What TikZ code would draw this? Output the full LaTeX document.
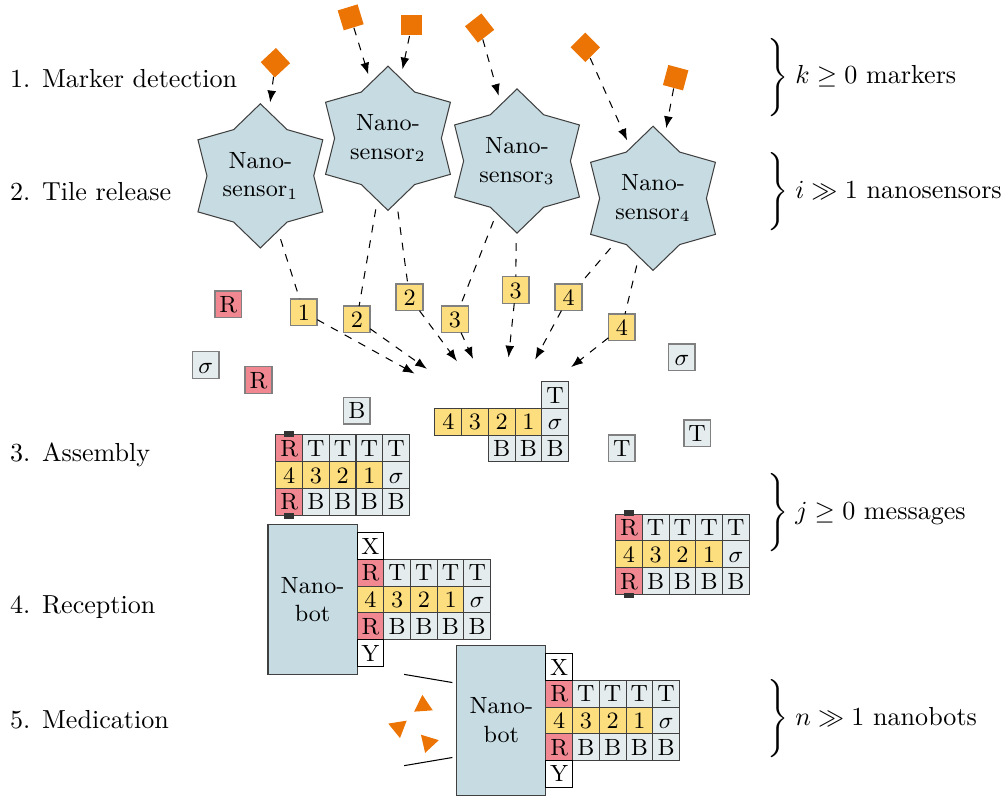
\documentclass[tikz,border=0pt]{standalone}
\usetikzlibrary{positioning, shapes.geometric, arrows.meta}

\definecolor{sensorblue}{RGB}{199,219,226}
\definecolor{tilegrey}{RGB}{228,236,238}
\definecolor{tileyellow}{RGB}{253,222,127}
\definecolor{tilered}{RGB}{240,135,145}
\definecolor{markerorange}{RGB}{236,116,4}

\newcommand{\tilesize}{0.36cm}

% one assembled message: 3 x 5 tiles, #2 is the centre of the "4" tile
\newcommand{\tileblock}[2]{%
    \coordinate (#1) at #2;
    \foreach \col/\row/\rn/\fc/\lab in {
        0/1/t/tilered/R, 1/1/t/tilegrey/T, 2/1/t/tilegrey/T, 3/1/t/tilegrey/T, 4/1/t/tilegrey/T,
        0/0/m/tileyellow/4, 1/0/m/tileyellow/3, 2/0/m/tileyellow/2, 3/0/m/tileyellow/1, 4/0/m/tilegrey/$\sigma$,
        0/-1/b/tilered/R, 1/-1/b/tilegrey/B, 2/-1/b/tilegrey/B, 3/-1/b/tilegrey/B, 4/-1/b/tilegrey/B}
        \node [tile, fill = \fc] (#1-\rn\col) at ([shift = {(\col*\tilesize, \row*\tilesize)}]#1) {\lab};
}

\begin{document}
\begin{tikzpicture}[
    node distance = 0pt,
    tile/.style = {
        rectangle,
        minimum size = \tilesize,
        inner sep = 0pt,
        outer sep = 0pt,
        draw = black!75,
        text height = 6.2pt,
        text depth = 0pt,
        font = \small
    },
    loose/.style = {tile, draw = black!50, line width = 0.6pt},
    endtile/.style = {tile, draw = black, fill = white},
    stub/.style = {
        rectangle,
        minimum width = 0.135cm,
        minimum height = 0.075cm,
        inner sep = 0pt,
        fill = black!80
    },
    sensor/.style = {
        star,
        star points = 6,
        star point ratio = 1.35,
        minimum size = 1.91cm,
        inner sep = 0pt,
        outer sep = 3pt,
        draw = black!75,
        fill = sensorblue,
        align = center,
        font = \small
    },
    bot/.style = {
        rectangle,
        minimum width = 1.2cm,
        minimum height = 2.02cm,
        inner sep = 0pt,
        outer sep = 0pt,
        draw = black!75,
        fill = sensorblue,
        align = center,
        font = \small
    },
    marker/.style = {rectangle, minimum size = 0.28cm, inner sep = 0pt, fill = markerorange},
    drug/.style = {
        regular polygon,
        regular polygon sides = 3,
        minimum size = 0.29cm,
        inner sep = 0pt,
        fill = markerorange
    },
    hub/.style = {ellipse, minimum width = 3.53cm, minimum height = 1.72cm, inner sep = 0pt},
    phase/.style = {anchor = base west, inner sep = 0pt},
    link/.style = {dashed},
    arrow/.style = {-{Latex[length = 4.5pt]}, dashed}
]
    \useasboundingbox (0,0) rectangle (13.585,10.782);

    % Phases
    \node [phase] (ph1) at (0.13,9.605) {1. Marker detection};
    \node [phase] (ph2) at (0.13,8.073) {2. Tile release};
    \node [phase] (ph3) at (0.13,4.559) {3. Assembly};
    \node [phase] (ph4) at (0.13,2.516) {4. Reception};
    \node [phase] (ph5) at (0.13,0.966) {5. Medication};

    % Counts
    \node [phase] (cnt1) at (10.33,9.652) {$\Bigg\}\;k\geq 0$ markers};
    \node [phase] (cnt2) at (10.33,8.110) {$\Bigg\}\;i\gg 1$ nanosensors};
    \node [phase] (cnt3) at (10.33,3.787) {$\Bigg\}\;j\geq 0$ messages};
    \node [phase] (cnt4) at (10.33,1.004) {$\Bigg\}\;n\gg 1$ nanobots};

    % Markers
    \node [marker, rotate = 43] (m1) at (3.712,9.937) {};
    \node [marker, rotate = 17] (m2) at (4.726,10.548) {};
    \node [marker] (m3) at (5.550,10.445) {};
    \node [marker, rotate = 38] (m4) at (6.464,10.404) {};
    \node [marker, rotate = 45] (m5) at (7.889,10.144) {};
    \node [marker, rotate = -15] (m6) at (9.106,9.735) {};

    % Nanosensors
    \node [sensor] (s1) at (3.509,8.412) {Nano-\\sensor$_1$};
    \node [sensor] (s2) at (5.229,8.918) {Nano-\\sensor$_2$};
    \node [sensor] (s3) at (6.968,8.612) {Nano-\\sensor$_3$};
    \node [sensor] (s4) at (8.801,8.109) {Nano-\\sensor$_4$};

    % Released tiles
    \node [loose, fill = tileyellow] (t1) at (4.096,6.573) {1};
    \node [loose, fill = tileyellow] (t2a) at (4.809,6.478) {2};
    \node [loose, fill = tileyellow] (t2b) at (5.520,6.775) {2};
    \node [loose, fill = tileyellow] (t3a) at (6.132,6.478) {3};
    \node [loose, fill = tileyellow] (t3b) at (6.950,6.873) {3};
    \node [loose, fill = tileyellow] (t4a) at (7.663,6.775) {4};
    \node [loose, fill = tileyellow] (t4b) at (8.380,6.371) {4};

    % Free tiles
    \node [loose, fill = tilered] (fr1) at (3.075,6.681) {R};
    \node [loose, fill = tilegrey] (fs1) at (2.772,5.863) {$\sigma$};
    \node [loose, fill = tilered] (fr2) at (3.485,5.660) {R};
    \node [loose, fill = tilegrey] (fb1) at (4.809,5.247) {B};
    \node [loose, fill = tilegrey] (fs2) at (9.189,5.966) {$\sigma$};
    \node [loose, fill = tilegrey] (ft1) at (9.395,4.942) {T};
    \node [loose, fill = tilegrey] (ft2) at (8.380,4.740) {T};

    % Partial assembly
    \node [tile, fill = tileyellow] (p4) at (6.042,5.098) {4};
    \node [tile, fill = tileyellow, right = of p4] (p3) {3};
    \node [tile, fill = tileyellow, right = of p3] (p2) {2};
    \node [tile, fill = tileyellow, right = of p2] (p1) {1};
    \node [tile, fill = tilegrey, right = of p1] (ps) {$\sigma$};
    \node [tile, fill = tilegrey, above = of ps] (pt) {T};
    \node [tile, fill = tilegrey, below = of ps] (pb3) {B};
    \node [tile, fill = tilegrey, below = of p1] (pb2) {B};
    \node [tile, fill = tilegrey, below = of p2] (pb1) {B};
    \node [hub] (hub) at (p2) {};

    % Assembled messages
    \tileblock{A}{(3.898,4.380)}
    \node [stub] (A-up) at ([yshift = 0.015cm]A-t0.north) {};
    \node [stub] (A-down) at ([yshift = -0.015cm]A-b0.south) {};
    \tileblock{C}{(8.477,3.311)}
    \node [stub] (C-up) at ([yshift = 0.015cm]C-t0.north) {};
    \node [stub] (C-down) at ([yshift = -0.015cm]C-b0.south) {};

    % Nanobots
    \node [bot] (nb1) at (4.212,2.702) {Nano-\\bot};
    \tileblock{N}{([xshift = 0.18cm]nb1.east)}
    \node [endtile, above = of N-t0] (N-x) {X};
    \node [endtile, below = of N-b0] (N-y) {Y};

    \node [bot] (nb2) at (6.757,1.073) {Nano-\\bot};
    \tileblock{M}{([xshift = 0.18cm]nb2.east)}
    \node [endtile, above = of M-t0] (M-x) {X};
    \node [endtile, below = of M-b0] (M-y) {Y};

    % Medication
    \node [drug, rotate = 4] (d1) at (5.702,1.272) {};
    \node [drug, rotate = 189] (d2) at (5.368,0.978) {};
    \node [drug, rotate = -77] (d3) at (5.772,0.774) {};
    \draw ([shift = {(-0.06,0.51)}]nb2.west) -- ++(-0.65,0.11);
    \draw ([shift = {(-0.06,-0.50)}]nb2.west) -- ++(-0.65,-0.11);

    % Arrows
    \draw [arrow] (m1) -- (s1);
    \draw [arrow] (m2) -- (s2);
    \draw [arrow] (m3) -- (s2);
    \draw [arrow] (m4) -- (s3);
    \draw [arrow] (m5) -- (s4);
    \draw [arrow] (m6) -- (s4);

    \draw [link] (s1) -- (t1);
    \draw [link] (s2) -- (t2a);
    \draw [link] (s2) -- (t2b);
    \draw [link] (s3) -- (t3a);
    \draw [link] (s3) -- (t3b);
    \draw [link] (s4) -- (t4a);
    \draw [link] (s4) -- (t4b);

    \draw [arrow] (t1) -- (hub);
    \draw [arrow] (t2a) -- (hub);
    \draw [arrow] (t2b) -- (hub);
    \draw [arrow] (t3a) -- (hub);
    \draw [arrow] (t3b) -- (hub);
    \draw [arrow] (t4a) -- (hub);
    \draw [arrow] (t4b) -- (hub);

\end{tikzpicture}
\end{document}
